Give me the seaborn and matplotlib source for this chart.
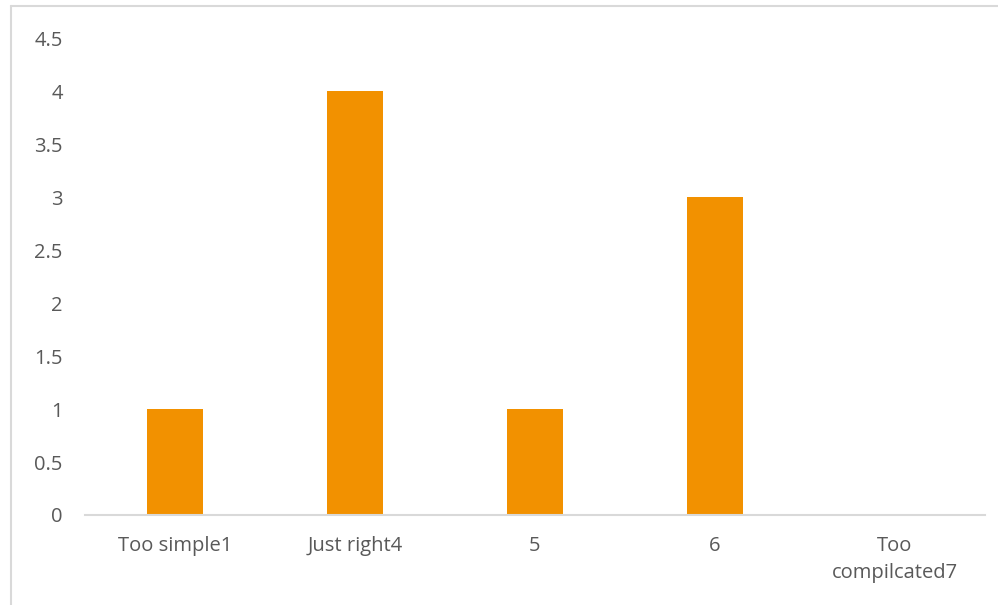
import matplotlib
matplotlib.use("Agg")
import matplotlib.pyplot as plt
import seaborn as sns
import pandas as pd
from matplotlib.ticker import FixedLocator
from matplotlib.lines import Line2D

categories = ["Too simple1", "Just right4", "5", "6", "Too\ncompilcated7"]
values = [1, 4, 1, 3, 0]
y_ticks = [0, 0.5, 1, 1.5, 2, 2.5, 3, 3.5, 4, 4.5]
y_labels = ["0", "0.5", "1", "1.5", "2", "2.5", "3", "3.5", "4", "4.5"]

sns.set_style("white")
plt.rcParams['font.family'] = ['Open Sans', 'DejaVu Sans']

df = pd.DataFrame({"cat": categories, "val": values})

fig = plt.figure(figsize=(9.98, 6.05), dpi=100)
ax = fig.add_axes([85/998, 1-515/605, 900/998, (515-38)/605])
sns.barplot(data=df, x="cat", y="val", ax=ax, color="#F29100", width=0.31,
            saturation=1, edgecolor="none")

ax.set_xlim(-0.5, len(categories)-0.5)
ax.set_ylim(0, 4.5)
ax.set_yticks(y_ticks)
ax.set_yticklabels(y_labels)
ax.set_xlabel("")
ax.set_ylabel("")

for s in ["top", "right", "left"]:
    ax.spines[s].set_visible(False)
ax.spines["bottom"].set_color("#D9D9D9")
ax.spines["bottom"].set_linewidth(1.5)

ax.tick_params(axis="y", length=0, pad=16, labelsize=14.5, labelcolor="#595959")
ax.tick_params(axis="x", which="major", length=0, pad=15, labelsize=14.5, labelcolor="#595959")
for lbl in ax.get_xticklabels():
    lbl.set_linespacing(1.5)
ax.xaxis.set_minor_locator(FixedLocator([i - 0.5 for i in range(len(categories)+1)]))
ax.tick_params(axis="x", which="minor", length=7, width=1.2, color="#D9D9D9", direction="out")

# chart border (top and left visible in the reference)
fig.add_artist(Line2D([11/998, 11/998], [0, 1-6/605], transform=fig.transFigure, color="#D9D9D9", lw=1.5))
fig.add_artist(Line2D([11/998, 1], [1-6/605, 1-6/605], transform=fig.transFigure, color="#D9D9D9", lw=1.5))

fig.savefig("out.png", dpi=100)
